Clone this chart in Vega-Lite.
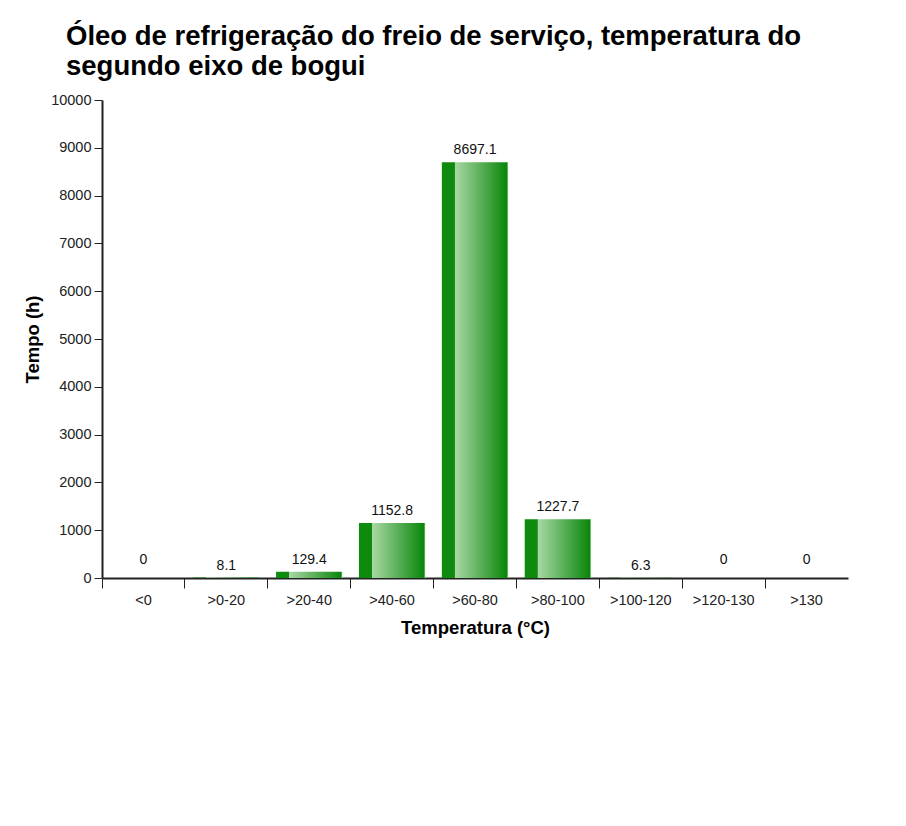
{
  "$schema": "https://vega.github.io/schema/vega-lite/v6.json",
  "width": 746,
  "height": 478,
  "autosize": {"type": "none"},
  "padding": {"left": 102, "top": 100, "right": 58, "bottom": 248},
  "background": "white",
  "title": {
    "text": ["Óleo de refrigeração do freio de serviço, temperatura do", "segundo eixo de bogui"],
    "anchor": "start",
    "frame": "group",
    "dx": -36,
    "offset": 12,
    "font": "Liberation Sans",
    "fontSize": 27.5,
    "fontWeight": "bold",
    "color": "#000000",
    "lineHeight": 30
  },
  "config": {
    "view": {"stroke": null},
    "axis": {
      "labelFont": "Liberation Sans",
      "labelFontSize": 14.5,
      "labelColor": "#222222",
      "titleFont": "Liberation Sans",
      "titleFontSize": 18.5,
      "titleFontWeight": "bold",
      "titleColor": "#000000",
      "domainColor": "#222222",
      "domainWidth": 2,
      "tickColor": "#222222",
      "grid": false
    }
  },
  "data": {
    "values": [
      {"cat": "<0", "value": 0},
      {"cat": ">0-20", "value": 8.1},
      {"cat": ">20-40", "value": 129.4},
      {"cat": ">40-60", "value": 1152.8},
      {"cat": ">60-80", "value": 8697.1},
      {"cat": ">80-100", "value": 1227.7},
      {"cat": ">100-120", "value": 6.3},
      {"cat": ">120-130", "value": 0},
      {"cat": ">130", "value": 0}
    ]
  },
  "encoding": {
    "x": {
      "field": "cat",
      "type": "nominal",
      "sort": null,
      "scale": {"paddingInner": 0, "paddingOuter": 0},
      "axis": {
        "title": "Temperatura (°C)",
        "labelAngle": 0,
        "bandPosition": 0,
        "tickSize": 10,
        "tickWidth": 1,
        "labelPadding": 5,
        "titlePadding": 12
      }
    },
    "y": {
      "field": "value",
      "type": "quantitative",
      "scale": {"domain": [0, 10000], "nice": false},
      "axis": {
        "title": "Tempo (h)",
        "format": "d",
        "values": [0, 1000, 2000, 3000, 4000, 5000, 6000, 7000, 8000, 9000, 10000],
        "tickSize": 8,
        "tickWidth": 1,
        "labelPadding": 3,
        "titlePadding": 8
      }
    }
  },
  "layer": [
    {
      "mark": {
        "type": "bar",
        "width": {"band": 0.8},
        "color": {
          "gradient": "linear",
          "x1": 0, "y1": 0, "x2": 1, "y2": 0,
          "stops": [
            {"offset": 0, "color": "#0e8a0e"},
            {"offset": 0.19, "color": "#0e8a0e"},
            {"offset": 0.2, "color": "#a8d8a4"},
            {"offset": 0.98, "color": "#0a860a"},
            {"offset": 1, "color": "#b8e0b8"}
          ]
        }
      }
    },
    {
      "transform": [{"filter": "datum.value > 0"}],
      "mark": {"type": "text", "baseline": "alphabetic", "dy": -8, "font": "Liberation Sans", "fontSize": 14, "color": "#111111"},
      "encoding": {"text": {"field": "value", "type": "quantitative", "format": ".1f"}}
    },
    {
      "transform": [{"filter": "datum.value == 0"}],
      "mark": {"type": "text", "baseline": "alphabetic", "dy": -14, "font": "Liberation Sans", "fontSize": 14, "color": "#111111"},
      "encoding": {"text": {"field": "value", "type": "quantitative", "format": "d"}}
    }
  ]
}
